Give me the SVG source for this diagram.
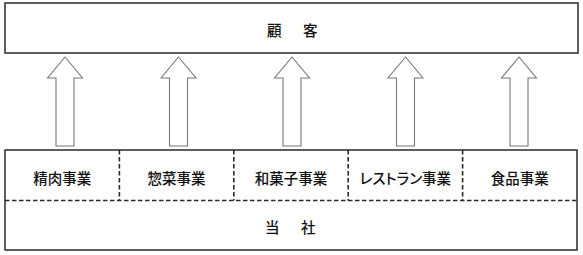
<svg xmlns="http://www.w3.org/2000/svg" width="583" height="255" viewBox="0 0 583 255">
<style>
.box{fill:#fff;stroke:#2a2a2a;stroke-width:1.5}
.dash{fill:none;stroke:#2a2a2a;stroke-width:1.6;stroke-dasharray:4.5 2.5}
.arrow{fill:#fff;stroke:#777;stroke-width:1.1;stroke-linejoin:miter}
text{font-family:"Noto Sans CJK JP","Noto Sans CJK SC",sans-serif;font-size:14.5px;font-weight:500;fill:#111;dominant-baseline:central}
.lbl{text-anchor:middle;font-feature-settings:"palt"}
</style>
<rect width="583" height="255" fill="#fff"/>
<g id="customer">
<rect class="box" x="5" y="3" width="573" height="50"/>
<text x="267" y="29" letter-spacing="3.5">顧　客</text>
</g>
<g id="company">
<rect class="box" x="5" y="150" width="572" height="100"/>
<text x="265" y="226.5" letter-spacing="3.5">当　社</text>
</g>
<g id="seiniku"><text class="lbl" x="62.2" y="177">精肉事業</text></g>
<g id="souzai"><text class="lbl" x="176.6" y="177">惣菜事業</text></g>
<g id="wagashi"><text class="lbl" x="291" y="177">和菓子事業</text></g>
<g id="restaurant"><text class="lbl" x="405.4" y="177">レストラン事業</text></g>
<g id="shokuhin"><text class="lbl" x="519.8" y="177">食品事業</text></g>
<g id="connectors">
<path class="dash" d="M5 200.5H577M119.4 150V200.5M233.8 150V200.5M348.2 150V200.5M462.6 150V200.5"/>
<path class="arrow" d="M65 57L82.5 78H74V146H56V78H47.5Z"/>
<path class="arrow" d="M178.5 57L196 78H187.5V146H169.5V78H161Z"/>
<path class="arrow" d="M292 57L309.5 78H301V146H283V78H274.5Z"/>
<path class="arrow" d="M405.5 57L423 78H414.5V146H396.5V78H388Z"/>
<path class="arrow" d="M519 57L536.5 78H528V146H510V78H501.5Z"/>
</g>
</svg>
